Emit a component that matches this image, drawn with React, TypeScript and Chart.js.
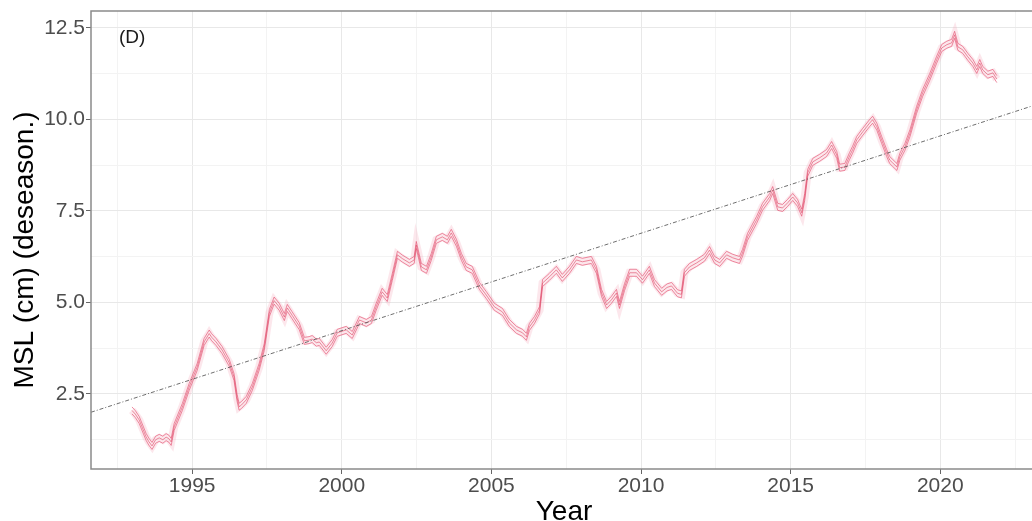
import React, { useEffect, useRef } from 'react';
import { Chart, registerables } from 'chart.js';

Chart.register(...registerables);

// ---- data ----
const years = [
  1992.99, 1993.1, 1993.23, 1993.46, 1993.55, 1993.66, 1993.78, 1993.9, 1994.02, 1994.13,
  1994.22, 1994.3, 1994.4, 1994.67, 1994.9, 1995.17, 1995.4, 1995.57, 1995.65, 1995.8,
  1996.0, 1996.24, 1996.4, 1996.5, 1996.57, 1996.65, 1996.81, 1997.01, 1997.24, 1997.41,
  1997.58, 1997.74, 1997.91, 1998.08, 1998.18, 1998.34, 1998.58, 1998.75, 1998.91, 1999.01,
  1999.15, 1999.25, 1999.48, 1999.68, 1999.85, 2000.15, 2000.35, 2000.59, 2000.82, 2000.99,
  2001.15, 2001.35, 2001.52, 2001.69, 2001.86, 2002.02, 2002.26, 2002.42, 2002.49, 2002.66,
  2002.83, 2002.99, 2003.16, 2003.36, 2003.53, 2003.66, 2003.83, 2004.0, 2004.16, 2004.36,
  2004.6, 2004.83, 2005.1, 2005.37, 2005.6, 2005.84, 2006.04, 2006.17, 2006.27, 2006.44,
  2006.61, 2006.71, 2006.94, 2007.17, 2007.37, 2007.61, 2007.84, 2008.04, 2008.34, 2008.51,
  2008.68, 2008.85, 2009.01, 2009.18, 2009.28, 2009.45, 2009.62, 2009.85, 2010.05, 2010.28,
  2010.45, 2010.69, 2010.87, 2011.02, 2011.22, 2011.35, 2011.45, 2011.62, 2011.86, 2012.12,
  2012.29, 2012.46, 2012.63, 2012.86, 2013.06, 2013.29, 2013.39, 2013.56, 2013.86, 2014.06,
  2014.3, 2014.4, 2014.57, 2014.73, 2014.9, 2015.07, 2015.23, 2015.37, 2015.47, 2015.57,
  2015.74, 2015.97, 2016.2, 2016.37, 2016.54, 2016.64, 2016.81, 2016.97, 2017.07, 2017.21,
  2017.41, 2017.64, 2017.74, 2017.88, 2018.04, 2018.21, 2018.31, 2018.41, 2018.55, 2018.65,
  2018.82, 2018.99, 2019.21, 2019.41, 2019.65, 2019.88, 2020.05, 2020.22, 2020.38, 2020.48,
  2020.59, 2020.75, 2020.92, 2021.09, 2021.22, 2021.32, 2021.42, 2021.59, 2021.76, 2021.89,
];

const msl = [
  2.05, 1.95, 1.79, 1.33, 1.2, 1.08, 1.25, 1.3, 1.25, 1.32,
  1.28, 1.19, 1.6, 2.14, 2.69, 3.24, 3.92, 4.15, 4.05, 3.92,
  3.7, 3.35, 2.96, 2.4, 2.15, 2.2, 2.34, 2.69, 3.24, 3.78,
  4.71, 5.05, 4.88, 4.6, 4.85, 4.65, 4.35, 3.95, 3.97, 4.0,
  3.9, 3.92, 3.68, 3.89, 4.17, 4.25, 4.11, 4.52, 4.44, 4.52,
  4.88, 5.29, 5.12, 5.7, 6.3, 6.2, 6.08, 6.16, 6.57, 5.97,
  5.89, 6.24, 6.71, 6.79, 6.71, 6.9, 6.63, 6.24, 5.97, 5.89,
  5.45, 5.2, 4.88, 4.74, 4.44, 4.25, 4.17, 4.06, 4.33, 4.52,
  4.79, 5.53, 5.7, 5.89, 5.67, 5.89, 6.16, 6.11, 6.16, 5.89,
  5.26, 4.93, 5.07, 5.26, 4.93, 5.42, 5.81, 5.81, 5.62, 5.89,
  5.53, 5.29, 5.41, 5.45, 5.25, 5.22, 5.81, 5.97, 6.08, 6.22,
  6.43, 6.16, 6.08, 6.3, 6.22, 6.16, 6.35, 6.79, 7.25, 7.61,
  7.88, 8.07, 7.61, 7.58, 7.72, 7.88, 7.72, 7.45, 7.88, 8.54,
  8.84, 8.95, 9.08, 9.3, 9.03, 8.68, 8.7, 9.0, 9.17, 9.44,
  9.66, 9.9, 9.99, 9.8, 9.44, 9.08, 8.89, 8.81, 8.7, 8.98,
  9.25, 9.63, 10.26, 10.72, 11.16, 11.63, 11.95, 12.04, 12.09, 12.31,
  11.98, 11.9, 11.71, 11.54, 11.35, 11.54, 11.35, 11.22, 11.27, 11.1,
];

const trendYears = [1991.62, 2023.5];
const trendMsl = [2.0, 10.48];

const xMajorTicks = [1995, 2000, 2005, 2010, 2015, 2020];
const xMinorTicks = [1992.5, 1997.5, 2002.5, 2007.5, 2012.5, 2017.5, 2022.5];
const yMajorTicks = [2.5, 5.0, 7.5, 10.0, 12.5];
const yMinorTicks = [1.25, 3.75, 6.25, 8.75, 11.25];
const yTickLabels = ['2.5', '5.0', '7.5', '10.0', '12.5'];

const panelLabel = '(D)';
const xTitle = 'Year';
const yTitle = 'MSL (cm) (deseason.)';

const FONT = '"Liberation Sans", Arial, Helvetica, sans-serif';

const offsetPlugin = {
  id: 'offsetLines',
  beforeDatasetDraw(chart: any, args: any) {
    const ds: any = chart.data.datasets[args.index];
    chart.ctx.save();
    if (ds.offsetY) chart.ctx.translate(0, ds.offsetY);
  },
  afterDatasetDraw(chart: any) {
    chart.ctx.restore();
  },
};

const decorPlugin = {
  id: 'decor',
  afterDraw(chart: any) {
    const { ctx, chartArea } = chart;
    ctx.save();
    ctx.strokeStyle = '#8a8a8a';
    ctx.lineWidth = 1.5;
    ctx.strokeRect(chartArea.left, chartArea.top, chartArea.right - chartArea.left, chartArea.bottom - chartArea.top);

    ctx.fillStyle = '#1a1a1a';
    ctx.font = `19px ${FONT}`;
    ctx.textAlign = 'left';
    ctx.textBaseline = 'middle';
    ctx.fillText(panelLabel, 119, 38);

    ctx.fillStyle = '#000';
    ctx.font = `28px ${FONT}`;
    ctx.textAlign = 'center';
    ctx.textBaseline = 'alphabetic';
    ctx.fillText(xTitle, 564, 520);

    ctx.translate(33, 250);
    ctx.rotate(-Math.PI / 2);
    ctx.fillText(yTitle, 0, 0);
    ctx.restore();
  },
};

export default function App() {
  const ref = useRef<HTMLCanvasElement | null>(null);

  useEffect(() => {
    if (!ref.current) return;
    const pts = years.map((x, i) => ({ x, y: msl[i] }));
    const trend = trendYears.map((x, i) => ({ x, y: trendMsl[i] }));
    const red = 'rgba(228, 80, 112, 0.65)';
    const chart = new Chart(ref.current, {
      type: 'line',
      data: {
        datasets: [
          {
            label: 'trend',
            data: trend,
            borderColor: 'rgba(85,85,85,0.85)',
            borderWidth: 1,
            borderDash: [4, 2, 1, 2],
            pointRadius: 0,
            order: 0,
          } as any,
          {
            label: 'center',
            data: pts,
            borderColor: 'rgba(222, 70, 100, 0.6)',
            borderWidth: 1,
            pointRadius: 0,
            order: 1,
          } as any,
          {
            label: 'upper',
            data: pts,
            borderColor: red,
            borderWidth: 1,
            pointRadius: 0,
            offsetY: -3.5,
            order: 2,
          } as any,
          {
            label: 'lower',
            data: pts,
            borderColor: red,
            borderWidth: 1,
            pointRadius: 0,
            offsetY: 3.5,
            order: 3,
          } as any,
          {
            label: 'band',
            data: pts,
            borderColor: 'rgba(242, 160, 178, 0.25)',
            borderWidth: 8,
            pointRadius: 0,
            order: 4,
          } as any,
        ],
      },
      options: {
        animation: false,
        responsive: false,
        maintainAspectRatio: false,
        parsing: false as any,
        layout: { padding: { top: 11, left: 0, right: 0, bottom: 0 } },
        plugins: { legend: { display: false }, tooltip: { enabled: false } },
        scales: {
          x: {
            type: 'linear',
            min: 1991.62,
            max: 2023.5,
            afterBuildTicks: (s: any) => {
              s.ticks = [...xMinorTicks, ...xMajorTicks].sort((a, b) => a - b).map((v) => ({ value: v }));
            },
            afterFit: (s: any) => {
              s.height = 52;
              s.paddingLeft = 0;
              s.paddingRight = 0;
            },
            ticks: {
              autoSkip: false,
              maxRotation: 0,
              padding: 0,
              color: '#4d4d4d',
              font: { family: FONT, size: 21 },
              callback: (v: any) => (xMajorTicks.includes(v) ? String(v) : ''),
            },
            grid: {
              color: (c: any) => (c.tick && xMajorTicks.includes(c.tick.value) ? '#e8e8e8' : '#f3f3f3'),
              lineWidth: 1,
              tickLength: 5,
              tickColor: (c: any) => (c.tick && xMajorTicks.includes(c.tick.value) ? '#666' : 'rgba(0,0,0,0)'),
            },
            border: { display: false },
          },
          y: {
            type: 'linear',
            min: 0.45,
            max: 12.96,
            afterBuildTicks: (s: any) => {
              s.ticks = [...yMinorTicks, ...yMajorTicks].sort((a, b) => a - b).map((v) => ({ value: v }));
            },
            afterFit: (s: any) => {
              s.width = 91;
              s.paddingTop = 0;
              s.paddingBottom = 0;
            },
            ticks: {
              autoSkip: false,
              padding: 1,
              color: '#4d4d4d',
              font: { family: FONT, size: 21 },
              callback: (v: any) => {
                const i = yMajorTicks.indexOf(v);
                return i >= 0 ? yTickLabels[i] : '';
              },
            },
            grid: {
              color: (c: any) => (c.tick && yMajorTicks.includes(c.tick.value) ? '#e8e8e8' : '#f3f3f3'),
              lineWidth: 1,
              tickLength: 5,
              tickColor: (c: any) => (c.tick && yMajorTicks.includes(c.tick.value) ? '#666' : 'rgba(0,0,0,0)'),
            },
            border: { display: false },
          },
        },
      },
      plugins: [offsetPlugin, decorPlugin],
    });
    return () => chart.destroy();
  }, []);

  return (
    <div style={{ position: 'fixed', left: 0, top: 0, width: 1032, height: 521, overflow: 'hidden', background: '#fff' }}>
      <canvas ref={ref} width={1045} height={521} style={{ width: 1045, height: 521, display: 'block' }} />
    </div>
  );
}
